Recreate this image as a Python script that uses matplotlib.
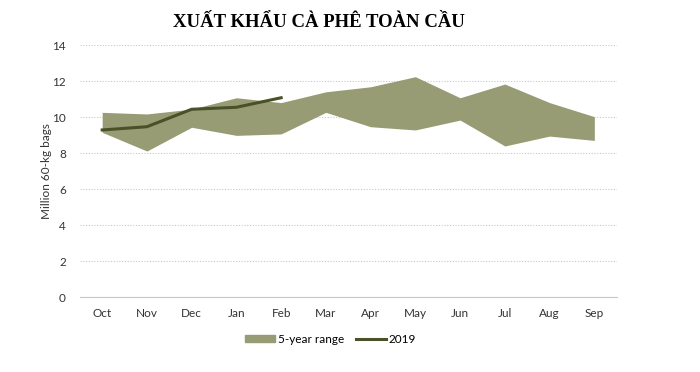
import numpy as np
import matplotlib.pyplot as plt
from matplotlib.patches import Patch
from matplotlib.lines import Line2D

# Du lieu doc tu bieu do
months = ['Oct', 'Nov', 'Dec', 'Jan', 'Feb', 'Mar', 'Apr', 'May', 'Jun', 'Jul', 'Aug', 'Sep']
range_low = [9.15, 8.11, 9.43, 8.98, 9.06, 10.26, 9.46, 9.28, 9.83, 8.39, 8.94, 8.70]
range_high = [10.26, 10.17, 10.44, 11.07, 10.80, 11.40, 11.68, 12.24, 11.07, 11.83, 10.80, 10.02]
exports_2019 = [9.28, 9.46, 10.43, 10.54, 11.07]

fill_color = '#979c75'
line_color = '#4a5129'

plt.rcParams['font.family'] = ['Lato', 'DejaVu Sans']

fig = plt.figure(figsize=(7, 3.72), dpi=100)
ax = fig.add_axes([0.114, 0.2016, 0.767, 0.6774])

x = np.arange(len(months))
ax.fill_between(x, range_low, range_high, color=fill_color, linewidth=0)
ax.plot(x[:len(exports_2019)], exports_2019, color=line_color, linewidth=2.2)

ax.set_xlim(-0.5, len(months) - 0.5)
ax.set_ylim(0, 14)
ax.set_yticks(range(0, 15, 2))
ax.set_xticks(x)
ax.set_xticklabels(months)
ax.tick_params(axis='both', length=0, labelsize=8.5, colors='#333333')
ax.tick_params(axis='x', pad=8)
ax.tick_params(axis='y', pad=10)
ax.grid(axis='y', linestyle=(0, (1, 1.5)), color='#c8c8c8', linewidth=0.8)
ax.set_axisbelow(True)
for s in ['top', 'right', 'left']:
    ax.spines[s].set_visible(False)
ax.spines['bottom'].set_color('#c8c8c8')
ax.set_ylabel('Million 60-kg bags', fontsize=8.5, color='#333333', labelpad=0)

fig.text(0.455, 0.94, 'XUẤT KHẨU CÀ PHÊ TOÀN CẦU', ha='center', va='center',
         fontsize=13.5, fontweight='bold', family='Liberation Serif')

handles = [Patch(color=fill_color, label='5-year range'),
           Line2D([0], [0], color=line_color, linewidth=2.2, label='2019')]
fig.legend(handles=handles, loc='center', bbox_to_anchor=(0.472, 0.088), ncol=2,
           frameon=False, fontsize=8.5, handlelength=2.6, handletextpad=0.2,
           columnspacing=1.0, handleheight=0.6)

fig.savefig('out.png', dpi=100)
